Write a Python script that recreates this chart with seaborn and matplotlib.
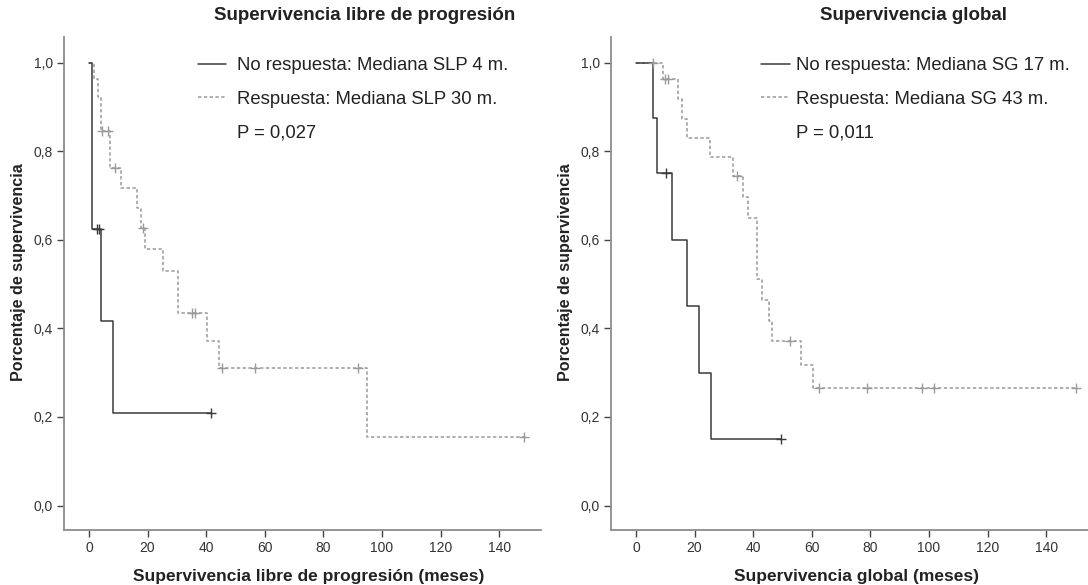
import matplotlib
matplotlib.use("Agg")
import matplotlib.pyplot as plt
import seaborn as sns
from matplotlib.lines import Line2D
from matplotlib.ticker import FuncFormatter

# ---------------- data ----------------
# Supervivencia libre de progresión
pfs_nr_t = [0, 1.1, 4.2, 8.1, 41.8]
pfs_nr_s = [1.0, 0.625, 0.417, 0.208, 0.208]
pfs_nr_ct = [2.6, 3.3, 41.8]
pfs_nr_cs = [0.625, 0.625, 0.208]

pfs_r_t = [0, 1.6, 3.0, 4.2, 7.3, 11.1, 16.5, 17.9, 19.3, 25.3, 30.3, 40.3, 44.5, 94.9, 148.4]
pfs_r_s = [1.0, 0.962, 0.923, 0.846, 0.761, 0.716, 0.671, 0.626, 0.578, 0.530, 0.434, 0.372, 0.310, 0.155, 0.155]
pfs_r_ct = [4.3, 6.4, 9.0, 18.5, 35.2, 36.3, 45.5, 56.6, 91.9, 148.4]
pfs_r_cs = [0.846, 0.846, 0.761, 0.626, 0.434, 0.434, 0.310, 0.310, 0.310, 0.155]

# Supervivencia global
os_nr_t = [0, 5.9, 7.1, 12.2, 17.3, 21.5, 25.6, 49.5]
os_nr_s = [1.0, 0.875, 0.75, 0.60, 0.45, 0.30, 0.15, 0.15]
os_nr_ct = [10.2, 49.5]
os_nr_cs = [0.75, 0.15]

os_r_t = [0, 9.1, 14.4, 15.6, 17.3, 25.3, 33.2, 36.6, 38.3, 41.2, 43.2, 45.4, 46.3, 56.3, 60.5, 150.1]
os_r_s = [1.0, 0.962, 0.917, 0.872, 0.830, 0.786, 0.744, 0.697, 0.650, 0.511, 0.464, 0.417, 0.372, 0.317, 0.265, 0.265]
os_r_ct = [5.9, 9.9, 11.0, 34.6, 52.6, 62.5, 78.8, 97.8, 101.9, 150.1]
os_r_cs = [1.0, 0.962, 0.962, 0.744, 0.372, 0.265, 0.265, 0.265, 0.265, 0.265]

x_ticks = [0, 20, 40, 60, 80, 100, 120, 140]
y_ticks = [0.0, 0.2, 0.4, 0.6, 0.8, 1.0]

titles = ["Supervivencia libre de progresión", "Supervivencia global"]
xlabels = ["Supervivencia libre de progresión (meses)", "Supervivencia global (meses)"]
ylabel = "Porcentaje de supervivencia"
legend_nr = ["No respuesta: Mediana SLP 4 m.", "No respuesta: Mediana SG 17 m."]
legend_r = ["Respuesta: Mediana SLP 30 m.", "Respuesta: Mediana SG 43 m."]
pvals = ["P = 0,027", "P = 0,011"]

# ---------------- style ----------------
sns.set_theme(style="white")
plt.rcParams["font.family"] = ["Liberation Sans", "DejaVu Sans"]

W, H = 1088, 585
fig = plt.figure(figsize=(W / 100, H / 100), dpi=100)

C_NR = "#3a3a3a"
C_R = "#9a9a9a"
DASH = (0, (2.2, 1.6))
TXT = "#222222"

ax_left_px = [64, 611]
ax_w_px = 477
ax_bottom_px = 530
ax_top_px = 37
px_per_month = 2.93
xmin = -8.5
xmax = xmin + ax_w_px / px_per_month
ymin, ymax = -0.0553, 1.0576

panels = [
    (pfs_nr_t, pfs_nr_s, pfs_nr_ct, pfs_nr_cs, pfs_r_t, pfs_r_s, pfs_r_ct, pfs_r_cs),
    (os_nr_t, os_nr_s, os_nr_ct, os_nr_cs, os_r_t, os_r_s, os_r_ct, os_r_cs),
]
legend_pos = [(198, 57.5, 1.51, 0.58), (761, 57.5, 1.57, 0.35)]
title_x = [365, 913]
xlabel_x = [309, 856]
ylabel_x = [18.3, 565.5]

for i, (nt, ns, nct, ncs, rt, rs, rct, rcs) in enumerate(panels):
    L = ax_left_px[i]
    ax = fig.add_axes([L / W, (H - ax_bottom_px) / H, ax_w_px / W,
                       (ax_bottom_px - ax_top_px) / H])
    sns.lineplot(x=rt, y=rs, drawstyle="steps-post", estimator=None, sort=False,
                 color=C_R, linewidth=1.1, linestyle=DASH, ax=ax)
    sns.lineplot(x=nt, y=ns, drawstyle="steps-post", estimator=None, sort=False,
                 color=C_NR, linewidth=1.1, ax=ax)
    sns.scatterplot(x=rct, y=rcs, marker="+", s=45, color=C_R, linewidth=1.0,
                    ax=ax, zorder=3)
    sns.scatterplot(x=nct, y=ncs, marker="+", s=45, color=C_NR, linewidth=1.0,
                    ax=ax, zorder=3)

    ax.set_xlim(xmin, xmax)
    ax.set_ylim(ymin, ymax)
    ax.set_xticks(x_ticks)
    ax.set_yticks(y_ticks)
    ax.yaxis.set_major_formatter(FuncFormatter(lambda v, p: f"{v:.1f}".replace(".", ",")))
    ax.set_xlabel("")
    ax.set_ylabel("")
    for s in ["top", "right"]:
        ax.spines[s].set_visible(False)
    for s in ["left", "bottom"]:
        ax.spines[s].set_color("#8c8c8c")
        ax.spines[s].set_linewidth(1.3)
    ax.tick_params(axis="both", direction="out", length=5, width=1.0,
                   color="#444444", labelcolor="#333333", labelsize=10, pad=3,
                   left=True, bottom=True)
    ax.set_facecolor("white")

    handles = [Line2D([], [], color=C_NR, lw=1.1),
               Line2D([], [], color=C_R, lw=1.1, ls=DASH),
               Line2D([], [], ls="none")]
    lx, ly, hl, htp = legend_pos[i]
    fig.legend(handles, [legend_nr[i], legend_r[i], pvals[i]],
               loc="upper left", bbox_to_anchor=(lx / W, 1 - ly / H),
               frameon=False, fontsize=13.3, handlelength=hl, handletextpad=htp,
               labelspacing=0.88, borderpad=0, borderaxespad=0, labelcolor=TXT)

    fig.text(title_x[i] / W, 1 - 15.5 / H, titles[i], ha="center", va="center",
             fontsize=13.5, fontweight="bold", color=TXT)
    fig.text(xlabel_x[i] / W, 1 - 577 / H, xlabels[i], ha="center", va="center",
             fontsize=12.5, fontweight="bold", color=TXT)
    fig.text(ylabel_x[i] / W, 1 - 272 / H, ylabel, ha="center", va="center",
             rotation=90, fontsize=11.6, fontweight="bold", color=TXT)

fig.savefig("out.png", dpi=100, facecolor="white")
